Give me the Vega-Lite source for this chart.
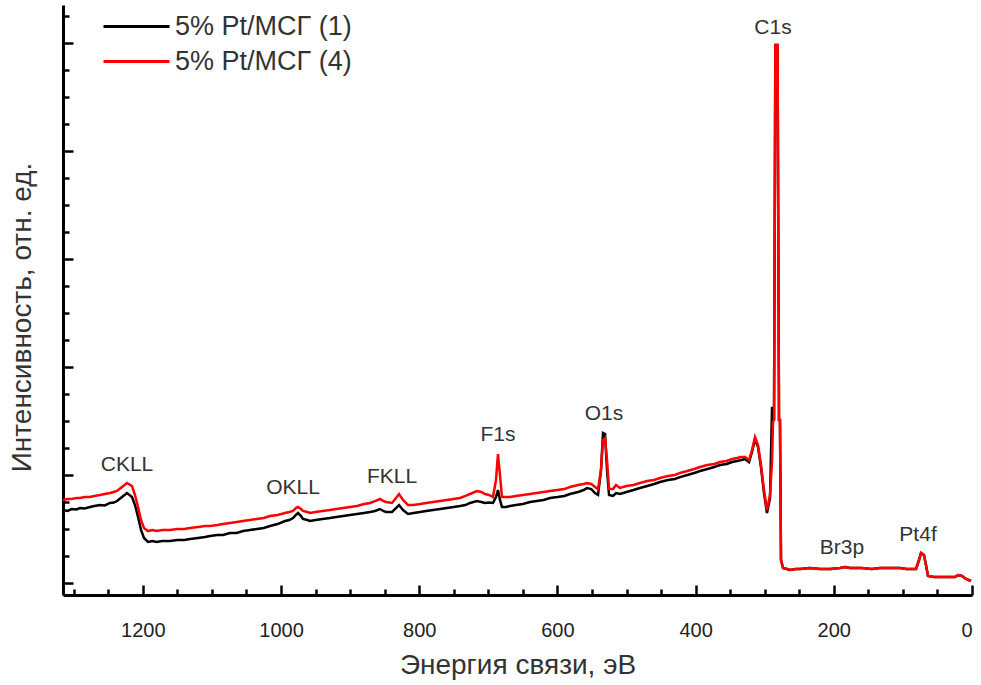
{
  "$schema": "https://vega.github.io/schema/vega-lite/v6.json",
  "width": 909,
  "height": 590,
  "autosize": {"type": "none"},
  "padding": {"left": 63, "top": 5, "right": 9, "bottom": 90},
  "background": "white",
  "config": {
    "view": {"stroke": null},
    "axis": {
      "grid": false,
      "domainColor": "#000000",
      "domainWidth": 3,
      "tickColor": "#000000",
      "tickWidth": 2.5,
      "labelFont": "Liberation Sans",
      "labelColor": "#222222",
      "titleFont": "Liberation Sans",
      "titleColor": "#333333",
      "titleFontWeight": "normal"
    }
  },
  "datasets": {
    "spectra": [
      {"E": 1315.5, "5% Pt/МСГ (1)": 0.676, "5% Pt/МСГ (4)": 0.769},
      {"E": 1309, "5% Pt/МСГ (1)": 0.667, "5% Pt/МСГ (4)": 0.778},
      {"E": 1303, "5% Pt/МСГ (1)": 0.685, "5% Pt/МСГ (4)": 0.778},
      {"E": 1296, "5% Pt/МСГ (1)": 0.681, "5% Pt/МСГ (4)": 0.787},
      {"E": 1290.9, "5% Pt/МСГ (1)": 0.694, "5% Pt/МСГ (4)": 0.787},
      {"E": 1284, "5% Pt/МСГ (1)": 0.690, "5% Pt/МСГ (4)": 0.796},
      {"E": 1276.4, "5% Pt/МСГ (1)": 0.704, "5% Pt/МСГ (4)": 0.796},
      {"E": 1270, "5% Pt/МСГ (1)": 0.713, "5% Pt/МСГ (4)": 0.806},
      {"E": 1262, "5% Pt/МСГ (1)": 0.722, "5% Pt/МСГ (4)": 0.815},
      {"E": 1255, "5% Pt/МСГ (1)": 0.718, "5% Pt/МСГ (4)": 0.824},
      {"E": 1247.5, "5% Pt/МСГ (1)": 0.741, "5% Pt/МСГ (4)": 0.833},
      {"E": 1242, "5% Pt/МСГ (1)": 0.745, "5% Pt/МСГ (4)": 0.843},
      {"E": 1237.3, "5% Pt/МСГ (1)": 0.759, "5% Pt/МСГ (4)": 0.852},
      {"E": 1230.1, "5% Pt/МСГ (1)": 0.796, "5% Pt/МСГ (4)": 0.889},
      {"E": 1222.9, "5% Pt/МСГ (1)": 0.833, "5% Pt/МСГ (4)": 0.926},
      {"E": 1215.6, "5% Pt/МСГ (1)": 0.796, "5% Pt/МСГ (4)": 0.898},
      {"E": 1211.3, "5% Pt/МСГ (1)": 0.722, "5% Pt/МСГ (4)": 0.815},
      {"E": 1206.9, "5% Pt/МСГ (1)": 0.611, "5% Pt/МСГ (4)": 0.704},
      {"E": 1202.6, "5% Pt/МСГ (1)": 0.491, "5% Pt/МСГ (4)": 0.583},
      {"E": 1198.3, "5% Pt/МСГ (1)": 0.417, "5% Pt/МСГ (4)": 0.509},
      {"E": 1192.5, "5% Pt/МСГ (1)": 0.380, "5% Pt/МСГ (4)": 0.481},
      {"E": 1186, "5% Pt/МСГ (1)": 0.389, "5% Pt/МСГ (4)": 0.491},
      {"E": 1180, "5% Pt/МСГ (1)": 0.380, "5% Pt/МСГ (4)": 0.481},
      {"E": 1172, "5% Pt/МСГ (1)": 0.389, "5% Pt/МСГ (4)": 0.491},
      {"E": 1160.6, "5% Pt/МСГ (1)": 0.389, "5% Pt/МСГ (4)": 0.491},
      {"E": 1150, "5% Pt/МСГ (1)": 0.398, "5% Pt/МСГ (4)": 0.500},
      {"E": 1140, "5% Pt/МСГ (1)": 0.398, "5% Pt/МСГ (4)": 0.500},
      {"E": 1131.7, "5% Pt/МСГ (1)": 0.407, "5% Pt/МСГ (4)": 0.509},
      {"E": 1120, "5% Pt/МСГ (1)": 0.417, "5% Pt/МСГ (4)": 0.519},
      {"E": 1110, "5% Pt/МСГ (1)": 0.426, "5% Pt/МСГ (4)": 0.528},
      {"E": 1102.8, "5% Pt/МСГ (1)": 0.435, "5% Pt/МСГ (4)": 0.528},
      {"E": 1092, "5% Pt/МСГ (1)": 0.444, "5% Pt/МСГ (4)": 0.537},
      {"E": 1084, "5% Pt/МСГ (1)": 0.444, "5% Pt/МСГ (4)": 0.546},
      {"E": 1073.8, "5% Pt/МСГ (1)": 0.463, "5% Pt/МСГ (4)": 0.556},
      {"E": 1064, "5% Pt/МСГ (1)": 0.463, "5% Pt/МСГ (4)": 0.565},
      {"E": 1055, "5% Pt/МСГ (1)": 0.481, "5% Pt/МСГ (4)": 0.574},
      {"E": 1044.9, "5% Pt/МСГ (1)": 0.491, "5% Pt/МСГ (4)": 0.583},
      {"E": 1035, "5% Pt/МСГ (1)": 0.500, "5% Pt/МСГ (4)": 0.593},
      {"E": 1025, "5% Pt/МСГ (1)": 0.509, "5% Pt/МСГ (4)": 0.602},
      {"E": 1015.9, "5% Pt/МСГ (1)": 0.528, "5% Pt/МСГ (4)": 0.620},
      {"E": 1005, "5% Pt/МСГ (1)": 0.546, "5% Pt/МСГ (4)": 0.630},
      {"E": 994.2, "5% Pt/МСГ (1)": 0.574, "5% Pt/МСГ (4)": 0.648},
      {"E": 988, "5% Pt/МСГ (1)": 0.583, "5% Pt/МСГ (4)": 0.657},
      {"E": 982.6, "5% Pt/МСГ (1)": 0.602, "5% Pt/МСГ (4)": 0.667},
      {"E": 978.5, "5% Pt/МСГ (1)": 0.630, "5% Pt/МСГ (4)": 0.694},
      {"E": 975.4, "5% Pt/МСГ (1)": 0.648, "5% Pt/МСГ (4)": 0.704},
      {"E": 971, "5% Pt/МСГ (1)": 0.620, "5% Pt/МСГ (4)": 0.685},
      {"E": 968.2, "5% Pt/МСГ (1)": 0.593, "5% Pt/МСГ (4)": 0.667},
      {"E": 962, "5% Pt/МСГ (1)": 0.583, "5% Pt/МСГ (4)": 0.657},
      {"E": 958, "5% Pt/МСГ (1)": 0.574, "5% Pt/МСГ (4)": 0.648},
      {"E": 950, "5% Pt/МСГ (1)": 0.583, "5% Pt/МСГ (4)": 0.657},
      {"E": 940, "5% Pt/МСГ (1)": 0.593, "5% Pt/МСГ (4)": 0.667},
      {"E": 929.1, "5% Pt/МСГ (1)": 0.602, "5% Pt/МСГ (4)": 0.676},
      {"E": 920, "5% Pt/МСГ (1)": 0.611, "5% Pt/МСГ (4)": 0.685},
      {"E": 910, "5% Pt/МСГ (1)": 0.620, "5% Pt/МСГ (4)": 0.694},
      {"E": 900.1, "5% Pt/МСГ (1)": 0.630, "5% Pt/МСГ (4)": 0.704},
      {"E": 890, "5% Pt/МСГ (1)": 0.639, "5% Pt/МСГ (4)": 0.713},
      {"E": 880, "5% Pt/МСГ (1)": 0.648, "5% Pt/МСГ (4)": 0.731},
      {"E": 871.2, "5% Pt/МСГ (1)": 0.657, "5% Pt/МСГ (4)": 0.741},
      {"E": 864, "5% Pt/МСГ (1)": 0.667, "5% Pt/МСГ (4)": 0.759},
      {"E": 856.7, "5% Pt/МСГ (1)": 0.685, "5% Pt/МСГ (4)": 0.778},
      {"E": 852, "5% Pt/МСГ (1)": 0.667, "5% Pt/МСГ (4)": 0.759},
      {"E": 848, "5% Pt/МСГ (1)": 0.657, "5% Pt/МСГ (4)": 0.750},
      {"E": 839.4, "5% Pt/МСГ (1)": 0.657, "5% Pt/МСГ (4)": 0.741},
      {"E": 833.6, "5% Pt/МСГ (1)": 0.694, "5% Pt/МСГ (4)": 0.787},
      {"E": 829.2, "5% Pt/МСГ (1)": 0.722, "5% Pt/МСГ (4)": 0.824},
      {"E": 823.4, "5% Pt/МСГ (1)": 0.676, "5% Pt/МСГ (4)": 0.769},
      {"E": 816.2, "5% Pt/МСГ (1)": 0.639, "5% Pt/МСГ (4)": 0.722},
      {"E": 808, "5% Pt/МСГ (1)": 0.648, "5% Pt/МСГ (4)": 0.722},
      {"E": 798.8, "5% Pt/МСГ (1)": 0.657, "5% Pt/МСГ (4)": 0.731},
      {"E": 790, "5% Pt/МСГ (1)": 0.667, "5% Pt/МСГ (4)": 0.741},
      {"E": 780, "5% Pt/МСГ (1)": 0.676, "5% Pt/МСГ (4)": 0.750},
      {"E": 769.9, "5% Pt/МСГ (1)": 0.685, "5% Pt/МСГ (4)": 0.759},
      {"E": 760, "5% Pt/МСГ (1)": 0.694, "5% Pt/МСГ (4)": 0.769},
      {"E": 750, "5% Pt/МСГ (1)": 0.704, "5% Pt/МСГ (4)": 0.778},
      {"E": 740.9, "5% Pt/МСГ (1)": 0.713, "5% Pt/МСГ (4)": 0.787},
      {"E": 733, "5% Pt/МСГ (1)": 0.722, "5% Pt/МСГ (4)": 0.806},
      {"E": 726.5, "5% Pt/МСГ (1)": 0.741, "5% Pt/МСГ (4)": 0.824},
      {"E": 716.4, "5% Pt/МСГ (1)": 0.759, "5% Pt/МСГ (4)": 0.852},
      {"E": 710, "5% Pt/МСГ (1)": 0.750, "5% Pt/МСГ (4)": 0.843},
      {"E": 704.8, "5% Pt/МСГ (1)": 0.741, "5% Pt/МСГ (4)": 0.824},
      {"E": 699, "5% Pt/МСГ (1)": 0.745, "5% Pt/МСГ (4)": 0.815},
      {"E": 693.2, "5% Pt/МСГ (1)": 0.741, "5% Pt/МСГ (4)": 0.796},
      {"E": 688.9, "5% Pt/МСГ (1)": 0.796, "5% Pt/МСГ (4)": 0.954},
      {"E": 686, "5% Pt/МСГ (1)": 0.861, "5% Pt/МСГ (4)": 1.194},
      {"E": 683.1, "5% Pt/МСГ (1)": 0.769, "5% Pt/МСГ (4)": 1.000},
      {"E": 680.2, "5% Pt/МСГ (1)": 0.704, "5% Pt/МСГ (4)": 0.796},
      {"E": 674, "5% Pt/МСГ (1)": 0.704, "5% Pt/МСГ (4)": 0.796},
      {"E": 668.6, "5% Pt/МСГ (1)": 0.713, "5% Pt/МСГ (4)": 0.796},
      {"E": 660, "5% Pt/МСГ (1)": 0.722, "5% Pt/МСГ (4)": 0.806},
      {"E": 650, "5% Pt/МСГ (1)": 0.731, "5% Pt/МСГ (4)": 0.815},
      {"E": 639.7, "5% Pt/МСГ (1)": 0.750, "5% Pt/МСГ (4)": 0.824},
      {"E": 630, "5% Pt/МСГ (1)": 0.759, "5% Pt/МСГ (4)": 0.833},
      {"E": 620, "5% Pt/МСГ (1)": 0.769, "5% Pt/МСГ (4)": 0.843},
      {"E": 610.7, "5% Pt/МСГ (1)": 0.787, "5% Pt/МСГ (4)": 0.852},
      {"E": 600, "5% Pt/МСГ (1)": 0.796, "5% Pt/МСГ (4)": 0.861},
      {"E": 590, "5% Pt/МСГ (1)": 0.806, "5% Pt/МСГ (4)": 0.870},
      {"E": 581.8, "5% Pt/МСГ (1)": 0.824, "5% Pt/МСГ (4)": 0.889},
      {"E": 570, "5% Pt/МСГ (1)": 0.843, "5% Pt/МСГ (4)": 0.907},
      {"E": 562, "5% Pt/МСГ (1)": 0.861, "5% Pt/МСГ (4)": 0.917},
      {"E": 557.2, "5% Pt/МСГ (1)": 0.880, "5% Pt/МСГ (4)": 0.926},
      {"E": 551, "5% Pt/МСГ (1)": 0.870, "5% Pt/МСГ (4)": 0.917},
      {"E": 545.6, "5% Pt/МСГ (1)": 0.833, "5% Pt/МСГ (4)": 0.889},
      {"E": 541.2, "5% Pt/МСГ (1)": 0.815, "5% Pt/МСГ (4)": 0.870},
      {"E": 536.9, "5% Pt/МСГ (1)": 1.046, "5% Pt/МСГ (4)": 1.046},
      {"E": 534, "5% Pt/МСГ (1)": 1.389, "5% Pt/МСГ (4)": 1.324},
      {"E": 531.1, "5% Pt/МСГ (1)": 1.380, "5% Pt/МСГ (4)": 1.343},
      {"E": 528.2, "5% Pt/МСГ (1)": 1.046, "5% Pt/МСГ (4)": 1.139},
      {"E": 525.3, "5% Pt/МСГ (1)": 0.815, "5% Pt/МСГ (4)": 0.870},
      {"E": 519.5, "5% Pt/МСГ (1)": 0.806, "5% Pt/МСГ (4)": 0.870},
      {"E": 515.2, "5% Pt/МСГ (1)": 0.833, "5% Pt/МСГ (4)": 0.907},
      {"E": 509.4, "5% Pt/МСГ (1)": 0.824, "5% Pt/МСГ (4)": 0.880},
      {"E": 500, "5% Pt/МСГ (1)": 0.843, "5% Pt/МСГ (4)": 0.898},
      {"E": 490, "5% Pt/МСГ (1)": 0.861, "5% Pt/МСГ (4)": 0.907},
      {"E": 480.5, "5% Pt/МСГ (1)": 0.880, "5% Pt/МСГ (4)": 0.926},
      {"E": 470, "5% Pt/МСГ (1)": 0.898, "5% Pt/МСГ (4)": 0.944},
      {"E": 460, "5% Pt/МСГ (1)": 0.917, "5% Pt/МСГ (4)": 0.954},
      {"E": 451.5, "5% Pt/МСГ (1)": 0.935, "5% Pt/МСГ (4)": 0.972},
      {"E": 440, "5% Pt/МСГ (1)": 0.954, "5% Pt/МСГ (4)": 0.991},
      {"E": 430, "5% Pt/МСГ (1)": 0.963, "5% Pt/МСГ (4)": 1.000},
      {"E": 422.6, "5% Pt/МСГ (1)": 0.981, "5% Pt/МСГ (4)": 1.019},
      {"E": 412, "5% Pt/МСГ (1)": 1.000, "5% Pt/МСГ (4)": 1.037},
      {"E": 402, "5% Pt/МСГ (1)": 1.019, "5% Pt/МСГ (4)": 1.056},
      {"E": 393.6, "5% Pt/МСГ (1)": 1.037, "5% Pt/МСГ (4)": 1.074},
      {"E": 383, "5% Pt/МСГ (1)": 1.056, "5% Pt/МСГ (4)": 1.093},
      {"E": 373, "5% Pt/МСГ (1)": 1.074, "5% Pt/МСГ (4)": 1.102},
      {"E": 364.7, "5% Pt/МСГ (1)": 1.093, "5% Pt/МСГ (4)": 1.120},
      {"E": 355, "5% Pt/МСГ (1)": 1.102, "5% Pt/МСГ (4)": 1.130},
      {"E": 347, "5% Pt/МСГ (1)": 1.120, "5% Pt/МСГ (4)": 1.148},
      {"E": 340.1, "5% Pt/МСГ (1)": 1.130, "5% Pt/МСГ (4)": 1.157},
      {"E": 334, "5% Pt/МСГ (1)": 1.139, "5% Pt/МСГ (4)": 1.167},
      {"E": 328.5, "5% Pt/МСГ (1)": 1.148, "5% Pt/МСГ (4)": 1.167},
      {"E": 322.7, "5% Pt/МСГ (1)": 1.120, "5% Pt/МСГ (4)": 1.139},
      {"E": 318.4, "5% Pt/МСГ (1)": 1.213, "5% Pt/МСГ (4)": 1.231},
      {"E": 314, "5% Pt/МСГ (1)": 1.333, "5% Pt/МСГ (4)": 1.352},
      {"E": 309.7, "5% Pt/МСГ (1)": 1.259, "5% Pt/МСГ (4)": 1.278},
      {"E": 305.4, "5% Pt/МСГ (1)": 1.074, "5% Pt/МСГ (4)": 1.093},
      {"E": 301, "5% Pt/МСГ (1)": 0.833, "5% Pt/МСГ (4)": 0.861},
      {"E": 296.7, "5% Pt/МСГ (1)": 0.648, "5% Pt/МСГ (4)": 0.676},
      {"E": 292.3, "5% Pt/МСГ (1)": 0.787, "5% Pt/МСГ (4)": 0.815},
      {"E": 289.4, "5% Pt/МСГ (1)": 1.620, "5% Pt/МСГ (4)": 1.120},
      {"E": 288, "5% Pt/МСГ (1)": 1.620, "5% Pt/МСГ (4)": 1.491},
      {"E": 286.5, "5% Pt/МСГ (1)": 1.509, "5% Pt/МСГ (4)": 1.509},
      {"E": 284.6, "5% Pt/МСГ (1)": 4.981, "5% Pt/МСГ (4)": 4.981},
      {"E": 281.4, "5% Pt/МСГ (1)": 4.981, "5% Pt/МСГ (4)": 4.981},
      {"E": 279.3, "5% Pt/МСГ (1)": 1.509, "5% Pt/МСГ (4)": 1.509},
      {"E": 277.9, "5% Pt/МСГ (1)": 1.509, "5% Pt/МСГ (4)": 1.509},
      {"E": 276.4, "5% Pt/МСГ (1)": 0.213, "5% Pt/МСГ (4)": 0.213},
      {"E": 273.5, "5% Pt/МСГ (1)": 0.139, "5% Pt/МСГ (4)": 0.139},
      {"E": 268, "5% Pt/МСГ (1)": 0.130, "5% Pt/МСГ (4)": 0.130},
      {"E": 263.4, "5% Pt/МСГ (1)": 0.120, "5% Pt/МСГ (4)": 0.120},
      {"E": 255, "5% Pt/МСГ (1)": 0.130, "5% Pt/МСГ (4)": 0.130},
      {"E": 248.9, "5% Pt/МСГ (1)": 0.130, "5% Pt/МСГ (4)": 0.130},
      {"E": 235, "5% Pt/МСГ (1)": 0.139, "5% Pt/МСГ (4)": 0.139},
      {"E": 220, "5% Pt/МСГ (1)": 0.130, "5% Pt/МСГ (4)": 0.130},
      {"E": 205, "5% Pt/МСГ (1)": 0.130, "5% Pt/МСГ (4)": 0.130},
      {"E": 191, "5% Pt/МСГ (1)": 0.139, "5% Pt/МСГ (4)": 0.139},
      {"E": 183.8, "5% Pt/МСГ (1)": 0.148, "5% Pt/МСГ (4)": 0.148},
      {"E": 176.6, "5% Pt/МСГ (1)": 0.139, "5% Pt/МСГ (4)": 0.139},
      {"E": 160, "5% Pt/МСГ (1)": 0.139, "5% Pt/МСГ (4)": 0.139},
      {"E": 145, "5% Pt/МСГ (1)": 0.130, "5% Pt/МСГ (4)": 0.130},
      {"E": 133.1, "5% Pt/МСГ (1)": 0.139, "5% Pt/МСГ (4)": 0.139},
      {"E": 118, "5% Pt/МСГ (1)": 0.139, "5% Pt/МСГ (4)": 0.139},
      {"E": 104.2, "5% Pt/МСГ (1)": 0.139, "5% Pt/МСГ (4)": 0.139},
      {"E": 95, "5% Pt/МСГ (1)": 0.130, "5% Pt/МСГ (4)": 0.130},
      {"E": 86.8, "5% Pt/МСГ (1)": 0.130, "5% Pt/МСГ (4)": 0.130},
      {"E": 81, "5% Pt/МСГ (1)": 0.130, "5% Pt/МСГ (4)": 0.130},
      {"E": 76.7, "5% Pt/МСГ (1)": 0.213, "5% Pt/МСГ (4)": 0.213},
      {"E": 73.8, "5% Pt/МСГ (1)": 0.278, "5% Pt/МСГ (4)": 0.278},
      {"E": 69.5, "5% Pt/МСГ (1)": 0.259, "5% Pt/МСГ (4)": 0.259},
      {"E": 66.6, "5% Pt/МСГ (1)": 0.167, "5% Pt/МСГ (4)": 0.167},
      {"E": 63.7, "5% Pt/МСГ (1)": 0.065, "5% Pt/МСГ (4)": 0.065},
      {"E": 55, "5% Pt/МСГ (1)": 0.056, "5% Pt/МСГ (4)": 0.056},
      {"E": 46.3, "5% Pt/МСГ (1)": 0.056, "5% Pt/МСГ (4)": 0.056},
      {"E": 35, "5% Pt/МСГ (1)": 0.056, "5% Pt/МСГ (4)": 0.056},
      {"E": 24.6, "5% Pt/МСГ (1)": 0.056, "5% Pt/МСГ (4)": 0.056},
      {"E": 20.3, "5% Pt/МСГ (1)": 0.074, "5% Pt/МСГ (4)": 0.074},
      {"E": 14.5, "5% Pt/МСГ (1)": 0.065, "5% Pt/МСГ (4)": 0.065},
      {"E": 8.7, "5% Pt/МСГ (1)": 0.037, "5% Pt/МСГ (4)": 0.037},
      {"E": 1.4, "5% Pt/МСГ (1)": 0.019, "5% Pt/МСГ (4)": 0.019}
    ],
    "peaks": [
      {"E": 288.0, "I": 5.139, "label": "C1s"},
      {"E": 1222.9, "I": 1.093, "label": "CKLL"},
      {"E": 982.6, "I": 0.880, "label": "OKLL"},
      {"E": 839.4, "I": 0.981, "label": "FKLL"},
      {"E": 686.0, "I": 1.370, "label": "F1s"},
      {"E": 532.6, "I": 1.565, "label": "O1s"},
      {"E": 188.1, "I": 0.324, "label": "Br3p"},
      {"E": 78.1, "I": 0.444, "label": "Pt4f"}
    ]
  },
  "layer": [
    {
      "data": {"name": "spectra"},
      "transform": [
        {"fold": ["5% Pt/МСГ (1)", "5% Pt/МСГ (4)"], "as": ["s", "I"]}
      ],
      "mark": {"type": "line", "strokeWidth": 2.5, "clip": true},
      "encoding": {
        "x": {
          "field": "E",
          "type": "quantitative",
          "scale": {"domain": [0, 1315.5], "reverse": true, "nice": false, "zero": false},
          "axis": {
            "orient": "bottom",
            "values": [0, 200, 400, 600, 800, 1000, 1200],
            "format": "d",
            "tickSize": -10,
            "labelPadding": 35,
            "labelFontSize": 20,
            "title": "Энергия связи, эВ",
            "titleFontSize": 28,
            "titleBaseline": "middle",
            "titleY": 70
          }
        },
        "y": {
          "field": "I",
          "type": "quantitative",
          "scale": {"domain": [-0.111, 5.352], "nice": false, "zero": false},
          "axis": {
            "orient": "left",
            "values": [0, 1, 2, 3, 4, 5],
            "tickSize": -10,
            "labels": false,
            "title": "Интенсивность, отн. ед.",
            "titleFontSize": 28,
            "titleAngle": -90,
            "titleAlign": "center",
            "titleBaseline": "middle",
            "titleX": -41,
            "titleY": 312
          }
        },
        "color": {
          "field": "s",
          "type": "nominal",
          "scale": {"domain": ["5% Pt/МСГ (1)", "5% Pt/МСГ (4)"], "range": ["#000000", "#ff0000"]},
          "legend": {
            "orient": "none",
            "legendX": 60,
            "legendY": 8,
            "title": null,
            "symbolType": "M-3,0H3",
            "symbolSize": 484,
            "symbolStrokeWidth": 3,
            "labelFont": "Liberation Sans",
            "labelFontSize": 27,
            "labelLimit": 400,
            "labelColor": "#333333",
            "labelOffset": 25,
            "rowPadding": 7
          }
        }
      }
    },
    {
      "data": {"name": "peaks"},
      "mark": {"type": "text", "font": "Liberation Sans", "fontSize": 21, "color": "#333333", "baseline": "middle"},
      "encoding": {
        "x": {
          "field": "E",
          "type": "quantitative",
          "axis": {
            "orient": "bottom",
            "values": [50, 100, 150, 250, 300, 350, 450, 500, 550, 650, 700, 750, 850, 900, 950, 1050, 1100, 1150, 1250, 1300],
            "tickSize": -6,
            "labels": false,
            "domain": false,
            "title": null
          }
        },
        "y": {
          "field": "I",
          "type": "quantitative",
          "axis": {
            "orient": "left",
            "values": [0.25, 0.5, 0.75, 1.25, 1.5, 1.75, 2.25, 2.5, 2.75, 3.25, 3.5, 3.75, 4.25, 4.5, 4.75, 5.25],
            "tickSize": -6,
            "labels": false,
            "domain": false,
            "title": null
          }
        },
        "text": {"field": "label"}
      }
    }
  ],
  "resolve": {"axis": {"x": "independent", "y": "independent"}}
}
